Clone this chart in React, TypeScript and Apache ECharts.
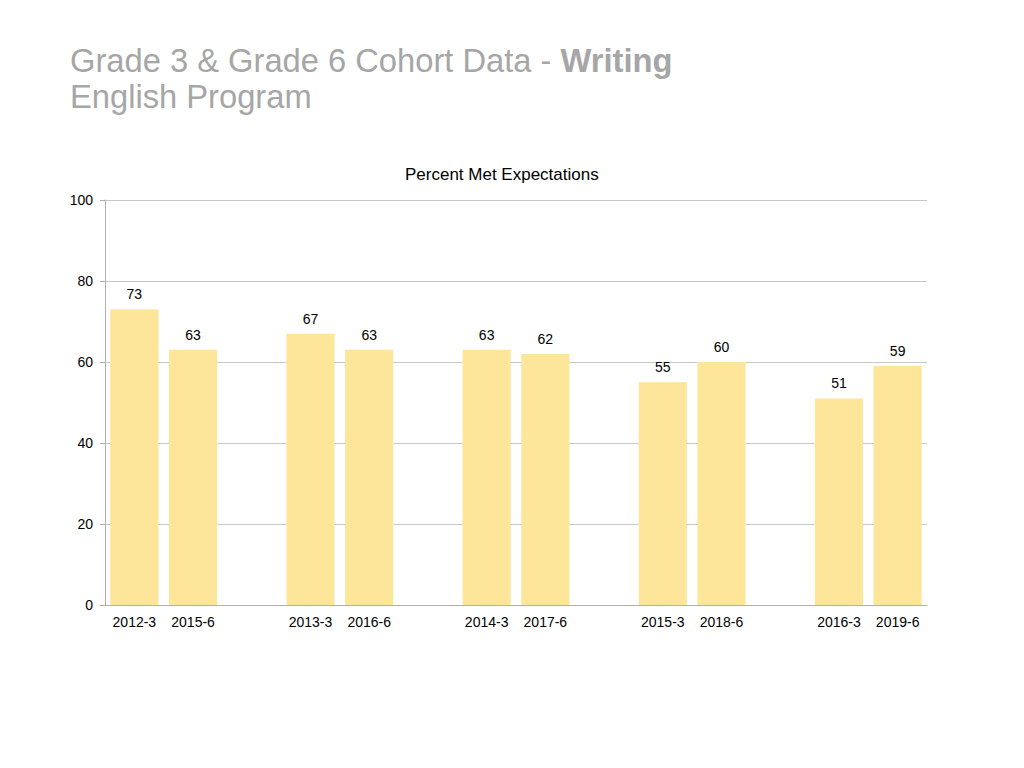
import React, { useEffect, useRef } from "react";
import * as echarts from "echarts";

const categories = [
  "2012-3", "2015-6", "",
  "2013-3", "2016-6", " ",
  "2014-3", "2017-6", "  ",
  "2015-3", "2018-6", "   ",
  "2016-3", "2019-6",
];
const values: (number | null)[] = [
  73, 63, null,
  67, 63, null,
  63, 62, null,
  55, 60, null,
  51, 59,
];
const yTicks = { min: 0, max: 100, interval: 20 };
const titleMain = "Grade 3 & Grade 6 Cohort Data - ";
const titleBold = "Writing";
const subtitle = "English Program";
const chartTitle = "Percent Met Expectations";

export default function App() {
  const ref = useRef<HTMLDivElement>(null);
  useEffect(() => {
    if (!ref.current) return;
    const chart = echarts.init(ref.current, undefined, { renderer: "svg" });
    const font = "Liberation Sans, Arial, Helvetica, sans-serif";
    chart.setOption({
      animation: false,
      backgroundColor: "#ffffff",
      textStyle: { fontFamily: font },
      graphic: [
        {
          type: "text",
          left: 70,
          top: 44,
          style: {
            text: `{n|${titleMain}}{b|${titleBold}}`,
            rich: {
              n: { fontSize: 32.7, fill: "#a6a6a6", fontFamily: font },
              b: { fontSize: 32.7, fill: "#a6a6a6", fontWeight: "bold", fontFamily: font },
            },
          },
        },
        {
          type: "text",
          left: 70,
          top: 80,
          style: { text: subtitle, fontSize: 32.7, fill: "#a6a6a6", fontFamily: font },
        },
      ],
      title: {
        text: chartTitle,
        left: 400,
        top: 161,
        textStyle: { fontSize: 17, fontWeight: "normal", color: "#000000", fontFamily: font },
      },
      grid: { left: 105, right: 97, top: 200, bottom: 163, containLabel: false },
      xAxis: {
        type: "category",
        data: categories,
        axisLine: { lineStyle: { color: "#b0b0b0" } },
        axisTick: { show: false },
        axisLabel: { color: "#000000", fontSize: 14, margin: 10, interval: 0, fontFamily: font },
      },
      yAxis: {
        type: "value",
        min: yTicks.min,
        max: yTicks.max,
        interval: yTicks.interval,
        axisLine: { show: true, lineStyle: { color: "#b0b0b0" } },
        axisTick: { show: true, length: 5, lineStyle: { color: "#b0b0b0" } },
        axisLabel: { color: "#000000", fontSize: 14, margin: 12, fontFamily: font },
        splitLine: { lineStyle: { color: "#c8c8c8" } },
      },
      series: [
        {
          type: "bar",
          data: values,
          barCategoryGap: "18%",
          itemStyle: { color: "#fde699" },
          label: {
            show: true,
            position: "top",
            distance: 8,
            color: "#000000",
            fontSize: 14,
            fontFamily: font,
          },
        },
      ],
    });
    return () => chart.dispose();
  }, []);
  return (
    <div
      ref={ref}
      style={{ position: "fixed", left: 0, top: 0, width: 1024, height: 768 }}
    />
  );
}
